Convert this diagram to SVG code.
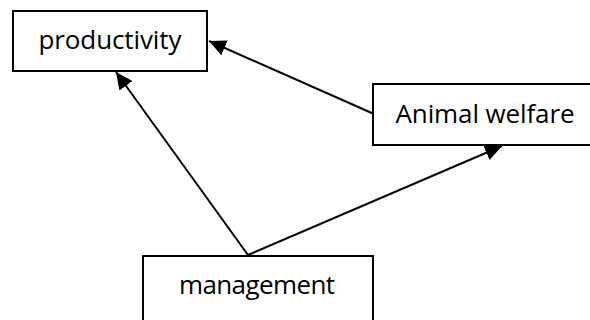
<svg xmlns="http://www.w3.org/2000/svg" width="590" height="320" viewBox="0 0 590 320">
<style>
.box{fill:#fff;stroke:#000;stroke-width:2}
.lbl{font-family:"Open Sans","Liberation Sans",sans-serif;font-size:26px;fill:#000;text-anchor:middle}
.edge{stroke:#000;stroke-width:2;fill:none}
</style>
<defs>
<marker id="ah" markerUnits="userSpaceOnUse" markerWidth="18" markerHeight="16" refX="17" refY="8" orient="auto">
<path d="M0,0 L17,8 L0,16 z" fill="#000"/>
</marker>
</defs>
<g id="connectors">
<path class="edge" d="M248,255 L116,72" marker-end="url(#ah)"/>
<path class="edge" d="M374,114 L209,41" marker-end="url(#ah)"/>
<path class="edge" d="M248,255 L502,146" marker-end="url(#ah)"/>
</g>
<g id="productivity">
<rect class="box" x="13" y="11" width="194" height="60"/>
<text class="lbl" x="110" y="49" textLength="143">productivity</text>
</g>
<g id="animal-welfare">
<rect class="box" x="373" y="84" width="230" height="61"/>
<text class="lbl" x="485" y="123" textLength="179">Animal welfare</text>
</g>
<g id="management">
<rect class="box" x="143" y="256" width="230" height="80"/>
<text class="lbl" x="257" y="294" textLength="156">management</text>
</g>
</svg>
